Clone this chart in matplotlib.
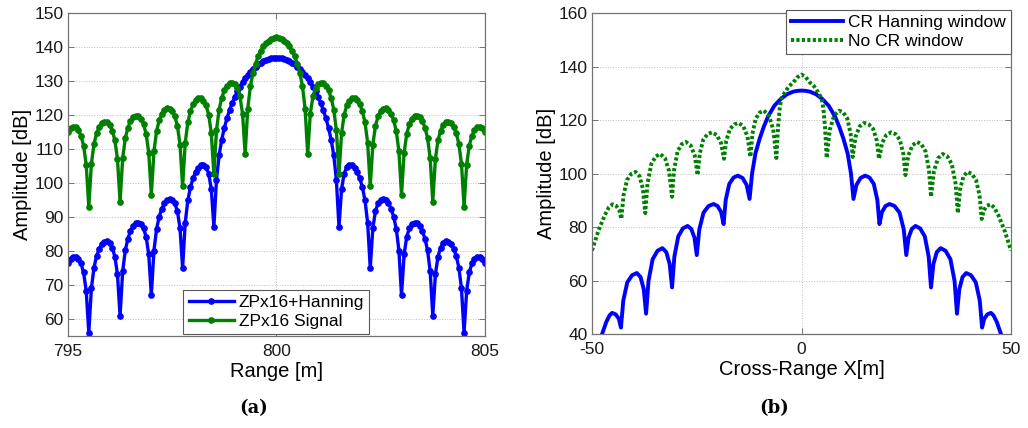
import numpy as np
import matplotlib
matplotlib.use('Agg')
import matplotlib.pyplot as plt

plt.rcParams['font.family'] = ['Liberation Sans', 'DejaVu Sans']
plt.rcParams['axes.unicode_minus'] = False

# ---- panel (a): range profile, samples every 1/16 m from 795 to 805 ----
range_start, range_stop, n_samples = 795.0, 805.0, 161

zp_hanning = [
    76.37, 77.66, 78.29, 78.33, 77.73, 76.32, 73.67, 68.3, 56.0,
    69.04, 75.14, 78.53, 80.68, 82.03, 82.73, 82.83, 82.3, 80.95, 78.37, 73.09, 61.0,
    73.98, 80.16, 83.64, 85.88, 87.31, 88.1, 88.3, 87.87, 86.64, 84.16, 79.0, 67.0,
    80.13, 86.43, 90.05, 92.42, 94.0, 94.96, 95.31, 95.05, 94.0, 91.72, 86.74, 75.0,
    88.31, 94.85, 98.72, 101.37, 103.23, 104.5, 105.19, 105.29, 104.62, 102.77, 98.26, 87.1,
    100.93, 108.11, 112.7, 116.17, 119.0, 121.4, 123.47, 125.29, 126.91, 128.35, 129.63, 130.78,
    131.8, 132.72, 133.53, 134.24, 134.85, 135.38, 135.82, 136.17, 136.45, 136.65, 136.76, 136.8,
    136.76, 136.65, 136.45, 136.17, 135.82, 135.38, 134.85, 134.24, 133.53, 132.72, 131.8,
    130.78, 129.63, 128.35, 126.91, 125.29, 123.47, 121.4, 119.0, 116.17, 112.7, 108.11, 100.93,
    87.1, 98.26, 102.77, 104.62, 105.29, 105.19, 104.5, 103.23, 101.37, 98.72, 94.85, 88.31,
    75.0, 86.74, 91.72, 94.0, 95.05, 95.31, 94.96, 94.0, 92.42, 90.05, 86.43, 80.13,
    67.0, 79.0, 84.16, 86.64, 87.87, 88.3, 88.1, 87.31, 85.88, 83.64, 80.16, 73.98,
    61.0, 73.09, 78.37, 80.95, 82.3, 82.83, 82.73, 82.03, 80.68, 78.53, 75.14, 69.04,
    56.0, 68.3, 73.67, 76.32, 77.73, 78.33, 78.29, 77.66, 76.37,
]

zp_signal = [
    115.1, 116.2, 116.6, 116.4, 115.6, 113.9, 111.0, 105.4, 93.0,
    105.7, 111.5, 114.65, 116.5, 117.6, 118.05, 117.9, 117.1, 115.4, 112.6, 107.0, 94.5,
    107.3, 113.15, 116.3, 118.2, 119.3, 119.8, 119.65, 118.9, 117.3, 114.4, 108.9, 96.5,
    109.3, 115.2, 118.4, 120.3, 121.5, 122.0, 121.9, 121.15, 119.6, 116.8, 111.3, 99.0,
    111.8, 117.8, 121.05, 123.1, 124.3, 124.9, 124.9, 124.25, 122.8, 120.1, 114.7, 102.5,
    115.5, 121.6, 125.0, 127.2, 128.6, 129.3, 129.5, 129.1, 127.9, 125.5, 120.4, 108.5,
    121.9, 128.4, 132.35, 135.1, 137.25, 138.9, 140.15, 141.15, 141.9, 142.4, 142.7, 142.8,
    142.7, 142.4, 141.9, 141.15, 140.15, 138.9, 137.25, 135.1, 132.35, 128.4, 121.9,
    108.5, 120.4, 125.5, 127.9, 129.1, 129.5, 129.3, 128.6, 127.2, 125.0, 121.6, 115.5,
    102.5, 114.7, 120.1, 122.8, 124.25, 124.9, 124.9, 124.3, 123.1, 121.05, 117.8, 111.8,
    99.0, 111.3, 116.8, 119.6, 121.15, 121.9, 122.0, 121.5, 120.3, 118.4, 115.2, 109.3,
    96.5, 108.9, 114.4, 117.3, 118.9, 119.65, 119.8, 119.3, 118.2, 116.3, 113.15, 107.3,
    94.5, 107.0, 112.6, 115.4, 117.1, 117.9, 118.05, 117.6, 116.5, 114.65, 111.5, 105.7,
    93.0, 105.4, 111.0, 113.9, 115.6, 116.4, 116.6, 116.2, 115.1,
]

# ---- panel (b): cross-range profile ----
cr_hann_x = [
    -50, -48.5, -47.6, -46.6, -45.8, -45.2, -44.36, -43.6, -43.1,
    -42.53, -41.58, -40.44, -39.3, -38.42, -37.65, -37.1,
    -36.52, -35.54, -34.37, -33.2, -32.28, -31.48, -30.9,
    -30.35, -29.42, -28.31, -27.2, -26.32, -25.55, -25.0,
    -24.4, -23.4, -22.2, -21.0, -20.04, -19.2, -18.6,
    -18.09, -17.24, -16.22, -15.2, -14.08, -13.1, -12.4,
    -11.8, -11.0, -10.0, -9.0, -8.0, -6.5, -5.0, -3.5, -2.0, -1.0, 0,
    1.0, 2.0, 3.5, 5.0, 6.5, 8.0, 9.0, 10.0, 11.0, 11.8,
    12.4, 13.1, 14.08, 15.2, 16.22, 17.24, 18.09,
    18.6, 19.2, 20.04, 21.0, 22.2, 23.4, 24.4,
    25.0, 25.55, 26.32, 27.2, 28.31, 29.42, 30.35,
    30.9, 31.48, 32.28, 33.2, 34.37, 35.54, 36.52,
    37.1, 37.65, 38.42, 39.3, 40.44, 41.58, 42.53,
    43.1, 43.6, 44.36, 45.2, 45.8, 46.6, 47.6, 48.5, 50,
]
cr_hann = [
    30, 36, 40, 44.5, 47, 47.9, 47.35, 45.7, 42.4,
    52.6, 59.33, 61.98, 62.8, 61.28, 56.72, 47.6,
    59.85, 67.93, 71.12, 72.1, 70.63, 66.22, 57.4,
    68.9, 76.49, 79.48, 80.4, 79.31, 76.04, 69.5,
    79.05, 85.35, 87.84, 88.6, 87.85, 85.6, 81.1,
    90.15, 96.12, 98.48, 99.2, 98.33, 95.72, 90.5,
    100, 107.5, 113, 117.5, 121.3, 125.3, 127.8, 129.6, 130.6, 130.9, 131,
    130.9, 130.6, 129.6, 127.8, 125.3, 121.3, 117.5, 113, 107.5, 100,
    90.5, 95.72, 98.33, 99.2, 98.48, 96.12, 90.15,
    81.1, 85.6, 87.85, 88.6, 87.84, 85.35, 79.05,
    69.5, 76.04, 79.31, 80.4, 79.48, 76.49, 68.9,
    57.4, 66.22, 70.63, 72.1, 71.12, 67.93, 59.85,
    47.6, 56.72, 61.28, 62.8, 61.98, 59.33, 52.6,
    42.4, 45.7, 47.35, 47.9, 47, 44.5, 40, 36, 30,
]

cr_nowin_x = [
    -50, -48.5, -47.0, -46.0, -45.1, -44.26, -43.5, -43.0,
    -42.49, -41.64, -40.62, -39.6, -38.68, -37.88, -37.3,
    -36.76, -35.86, -34.78, -33.7, -32.58, -31.6, -30.9,
    -30.4, -29.58, -28.59, -27.6, -26.48, -25.5, -24.8,
    -24.29, -23.44, -22.42, -21.4, -20.24, -19.23, -18.5,
    -17.98, -17.1, -16.05, -15.0, -13.88, -12.9, -12.2,
    -11.72, -10.92, -9.96, -9.0, -7.8, -6.75, -6.0,
    -5.6, -5.2, -4.8, -4.0, -3.0, -2.0, -1.0, 0,
    1.0, 2.0, 3.0, 4.0, 4.8, 5.2, 5.6,
    6.0, 6.75, 7.8, 9.0, 9.96, 10.92, 11.72,
    12.2, 12.9, 13.88, 15.0, 16.05, 17.1, 17.98,
    18.5, 19.23, 20.24, 21.4, 22.42, 23.44, 24.29,
    24.8, 25.5, 26.48, 27.6, 28.59, 29.58, 30.4,
    30.9, 31.6, 32.58, 33.7, 34.78, 35.86, 36.76,
    37.3, 37.88, 38.68, 39.6, 40.62, 41.64, 42.49,
    43.0, 43.5, 44.26, 45.1, 46.0, 47.0, 48.5, 50,
]
cr_nowin = [
    71.2, 78.5, 84.3, 87.3, 88.5, 87.95, 86.3, 83.0,
    91.8, 97.61, 99.9, 100.6, 99.06, 94.44, 85.2,
    96.25, 103.54, 106.42, 107.3, 105.7, 100.9, 91.3,
    101.55, 108.32, 110.98, 111.8, 110.56, 106.84, 99.4,
    107.4, 112.68, 114.76, 115.4, 114.41, 111.44, 105.5,
    112.2, 116.62, 118.36, 118.9, 117.63, 113.82, 106.2,
    114.85, 120.56, 122.81, 123.5, 121.73, 116.42, 105.8,
    117.5, 124.5, 128, 130.3, 132.6, 134.0, 136.0, 137.0,
    136.0, 134.0, 132.6, 130.3, 128, 124.5, 117.5,
    105.8, 116.42, 121.73, 123.5, 122.81, 120.56, 114.85,
    106.2, 113.82, 117.63, 118.9, 118.36, 116.62, 112.2,
    105.5, 111.44, 114.41, 115.4, 114.76, 112.68, 107.4,
    99.4, 106.84, 110.56, 111.8, 110.98, 108.32, 101.55,
    91.3, 100.9, 105.7, 107.3, 106.42, 103.54, 96.25,
    85.2, 94.44, 99.06, 100.6, 99.9, 97.61, 91.8,
    83.0, 86.3, 87.95, 88.5, 87.3, 84.3, 78.5, 71.2,
]

BLUE = '#0000ff'
GREEN = '#008000'
TICK_FS = 12.5
LABEL_FS = 14.5
LEGEND_FS = 12.5


def style_axes(ax):
    """MATLAB-like look: gray box, inward ticks on all sides, dotted grid."""
    for sp in ax.spines.values():
        sp.set_color('0.45')
        sp.set_linewidth(0.9)
    ax.tick_params(direction='in', length=4, width=0.7, color='0.45',
                   top=True, right=True, labelsize=TICK_FS, labelcolor='#1a1a1a')
    ax.tick_params(axis='x', pad=6)
    ax.tick_params(axis='y', pad=3)
    ax.grid(True, linestyle=':', color='0.75', linewidth=0.7)
    ax.set_axisbelow(True)


fig = plt.figure(figsize=(10.28, 4.28), dpi=100)

# (a)
ax1 = fig.add_axes([0.0661, 0.215, 0.4056, 0.7547])
range_m = np.linspace(range_start, range_stop, n_samples)
ax1.plot(range_m, zp_hanning, '-o', color=BLUE, lw=2.4, markersize=3.8,
         label='ZPx16+Hanning')
ax1.plot(range_m, zp_signal, '-o', color=GREEN, lw=2.4, markersize=3.8,
         label='ZPx16 Signal')
ax1.set_xlim(795, 805)
ax1.set_ylim(55, 150)
ax1.set_xticks([795, 800, 805])
ax1.set_yticks(np.arange(60, 151, 10))
ax1.set_xlabel('Range [m]', fontsize=LABEL_FS, labelpad=2)
ax1.set_ylabel('Amplitude [dB]', fontsize=LABEL_FS, labelpad=2)
style_axes(ax1)
leg1 = ax1.legend(loc='lower center', fontsize=LEGEND_FS, fancybox=False,
                  edgecolor='0.35', framealpha=1, borderaxespad=0.1,
                  handlelength=2.6, borderpad=0.3, labelspacing=0.2,
                  handletextpad=0.3)
leg1.get_frame().set_linewidth(0.8)

# (b)
ax2 = fig.add_axes([0.5759, 0.2196, 0.4076, 0.75])
ax2.plot(cr_hann_x, cr_hann, '-', color=BLUE, lw=2.8,
         label='CR Hanning window')
ax2.plot(cr_nowin_x, cr_nowin, color=GREEN, lw=2.8, linestyle=(0, (0.8, 0.6)),
         label='No CR window')
ax2.set_xlim(-50, 50)
ax2.set_ylim(40, 160)
ax2.set_xticks([-50, 0, 50])
ax2.set_yticks(np.arange(40, 161, 20))
ax2.set_xlabel('Cross-Range X[m]', fontsize=LABEL_FS, labelpad=2)
ax2.set_ylabel('Amplitude [dB]', fontsize=LABEL_FS, labelpad=2)
style_axes(ax2)
leg2 = ax2.legend(loc='upper right', fontsize=LEGEND_FS, fancybox=False,
                  edgecolor='0.35', framealpha=1, borderaxespad=0.0,
                  handlelength=3.0, borderpad=0.3, labelspacing=0.2,
                  handletextpad=0.3, bbox_to_anchor=(1.0, 1.01))
leg2.get_frame().set_linewidth(0.8)

fig.text(254 / 1028, 1 - 408 / 428, '(a)', ha='center', va='center',
         fontsize=13, fontweight='bold', family='DejaVu Serif')
fig.text(774 / 1028, 1 - 408 / 428, '(b)', ha='center', va='center',
         fontsize=13, fontweight='bold', family='DejaVu Serif')

fig.savefig('out.png', dpi=100)
